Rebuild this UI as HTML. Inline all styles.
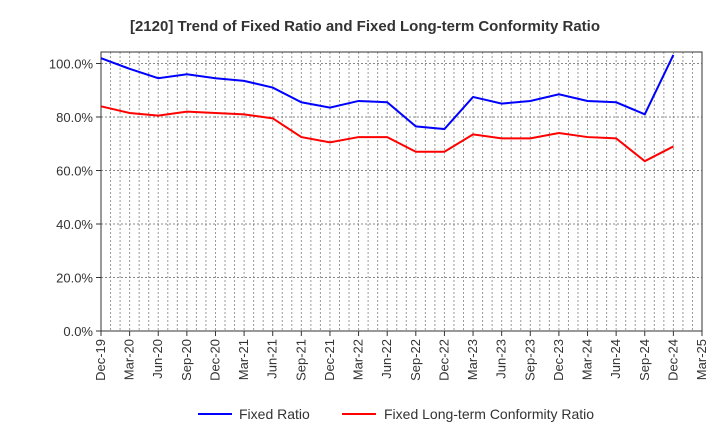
<!DOCTYPE html>
<html><head><meta charset="utf-8"><style>
body{margin:0;background:#fff;font-family:"Liberation Sans",Arial,sans-serif}
svg text{font-family:"Liberation Sans",Arial,sans-serif}
</style></head><body>
<svg id="chart" width="720" height="440">
<text x="365" y="31" text-anchor="middle" font-size="15" font-weight="bold" fill="#333">[2120]  Trend of Fixed Ratio and Fixed Long-term Conformity Ratio</text>
<g id="grid"></g><g id="axes"></g><g id="series"></g>
<g>
<line x1="198" y1="414" x2="232" y2="414" stroke="#0000ff" stroke-width="2"/>
<text x="239" y="419" font-size="14" fill="#333">Fixed Ratio</text>
<line x1="342" y1="414" x2="376" y2="414" stroke="#ff0000" stroke-width="2"/>
<text x="384" y="419" font-size="14" fill="#333">Fixed Long-term Conformity Ratio</text>
</g>
</svg>
<script>
const categories=["Dec-19","Mar-20","Jun-20","Sep-20","Dec-20","Mar-21","Jun-21","Sep-21","Dec-21","Mar-22","Jun-22","Sep-22","Dec-22","Mar-23","Jun-23","Sep-23","Dec-23","Mar-24","Jun-24","Sep-24","Dec-24","Mar-25"];
const fixedRatio=[102,98,94.5,96,94.5,93.5,91,85.5,83.5,86,85.5,76.5,75.5,87.5,85,86,88.5,86,85.5,81,103.2];
const conformityRatio=[84,81.5,80.5,82,81.5,81,79.5,72.5,70.5,72.5,72.5,67,67,73.5,72,72,74,72.5,72,63.5,69];
const yTicks=[0,20,40,60,80,100];
const yTickLabels=["0.0%","20.0%","40.0%","60.0%","80.0%","100.0%"];
const X0=101,X1=702,Y0=331,YT=52,YMAX=104.3;
const xs=i=>X0+(X1-X0)*i/(categories.length-1);
const ys=v=>Y0-(Y0-YT)*v/YMAX;
const NS="http://www.w3.org/2000/svg";
function mk(t,a,p){const e=document.createElementNS(NS,t);for(const k in a)e.setAttribute(k,a[k]);p.appendChild(e);return e;}
const grid=document.getElementById('grid'),axes=document.getElementById('axes'),ser=document.getElementById('series');
for(let m=1;m<(categories.length-1)*3;m++){const x=X0+(X1-X0)*m/((categories.length-1)*3);
 const l=mk('line',{x1:x,x2:x,y1:YT,y2:Y0,stroke:'#999','stroke-dasharray':'2,2','stroke-width':1},grid);
 }
yTicks.forEach((v,i)=>{const y=ys(v);
 if(v>0){const l=mk('line',{x1:X0,x2:X1,y1:y,y2:y,stroke:'#888','stroke-dasharray':'2,2','stroke-width':1},grid);
 }
 mk('line',{x1:X0-5,x2:X0,y1:y,y2:y,stroke:'#333'},axes);
 const t=mk('text',{x:X0-8,y:y+5,'text-anchor':'end','font-size':13,fill:'#333'},axes);t.textContent=yTickLabels[i];
 });
categories.forEach((c,i)=>{const x=xs(i);
 mk('line',{x1:x,x2:x,y1:Y0,y2:Y0+5,stroke:'#333'},axes);
 const t=mk('text',{x:x+4,y:Y0+8,'text-anchor':'end','font-size':13,fill:'#333',transform:`rotate(-90 ${x+4} ${Y0+8})`},axes);t.textContent=c;
 });
const fr=mk('rect',{x:X0,y:YT,width:X1-X0,height:Y0-YT,fill:'none',stroke:'#333'},axes);

function line(d,c,n){const p=mk('polyline',{points:d.map((v,i)=>xs(i)+','+ys(v)).join(' '),fill:'none',stroke:c,'stroke-width':2},ser);
 }
line(fixedRatio,'#0000ff','fixed-ratio-line');
line(conformityRatio,'#ff0000','conformity-ratio-line');
</script>
</body></html>
